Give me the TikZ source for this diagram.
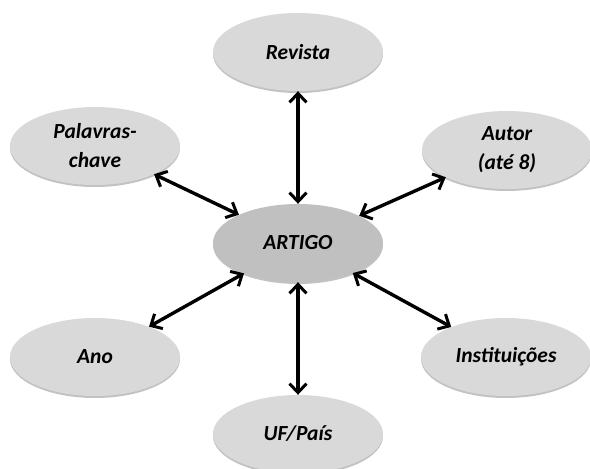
\documentclass[tikz,border=0pt]{standalone}
\usepackage{fontspec}
\setmainfont{Carlito}
\usetikzlibrary{shapes.geometric,arrows.meta,shadows}
\definecolor{ellgray}{HTML}{D9D9D9}
\definecolor{centgray}{HTML}{C0C0C0}
\tikzset{
  ell/.style={ellipse, minimum width=170pt, minimum height=78pt, inner sep=0pt,
    fill=ellgray, align=center,
    font=\fontsize{21.5}{29}\selectfont\bfseries\itshape,
    drop shadow={shadow xshift=0pt, shadow yshift=-2pt, fill=black!40, opacity=0.6}},
  centre/.style={ell, fill=centgray},
  link/.style={line width=3.4pt, {Straight Barb[length=9pt,width=17pt,line width=3pt]}-{Straight Barb[length=9pt,width=17pt,line width=3pt]}}
}
\begin{document}
\begin{tikzpicture}[x=1pt,y=-1pt]
\useasboundingbox (0,0) rectangle (590,469);
\node[ell] (rev) at (298,52) {Revista};
\node[ell] (pal) at (95,146) {Palavras-\\chave};
\node[ell] (aut) at (507,150) {Autor\\(até 8)};
\node[centre] (art) at (298,243) {ARTIGO};
\node[ell] (ano) at (95,357) {Ano};
\node[ell] (ins) at (506,357) {Instituições};
\node[ell] (uf) at (298,434) {UF/País};
\draw[link] (rev) -- (art);
\draw[link] (pal) -- (art);
\draw[link] (aut) -- (art);
\draw[link] (ano) -- (art);
\draw[link] (ins) -- (art);
\draw[link] (uf) -- (art);
\end{tikzpicture}
\end{document}
